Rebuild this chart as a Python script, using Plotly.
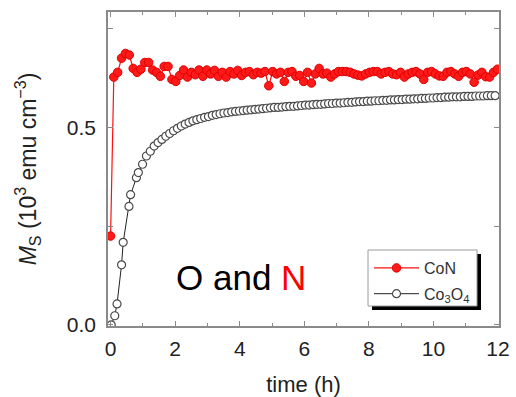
import plotly.graph_objects as go

# CoN data
con_t = [0.00, 0.10, 0.22, 0.34, 0.46, 0.58, 0.70, 0.82, 0.94, 1.06, 1.18, 1.30, 1.42, 1.54, 1.66, 1.78,
         1.90, 2.02, 2.14, 2.26, 2.38, 2.50, 2.62, 2.74, 2.86, 2.98, 3.10, 3.22, 3.34, 3.46, 3.58, 3.70,
         3.82, 3.94, 4.06, 4.18, 4.30, 4.42, 4.54, 4.66, 4.78, 4.90, 5.02, 5.14, 5.26, 5.38, 5.50, 5.62,
         5.74, 5.86, 5.98, 6.10, 6.22, 6.34, 6.46, 6.58, 6.70, 6.82, 6.94, 7.06, 7.18, 7.30, 7.42, 7.54,
         7.66, 7.78, 7.90, 8.02, 8.14, 8.26, 8.38, 8.50, 8.62, 8.74, 8.86, 8.98, 9.10, 9.22, 9.34, 9.46,
         9.58, 9.70, 9.82, 9.94, 10.06, 10.18, 10.30, 10.42, 10.54, 10.66, 10.78, 10.90, 11.02, 11.14,
         11.26, 11.38, 11.50, 11.62, 11.74, 11.86, 11.98]
con_ms = [0.225, 0.628, 0.640, 0.676, 0.688, 0.684, 0.650, 0.640, 0.648, 0.665, 0.665, 0.646, 0.640, 0.630,
          0.655, 0.655, 0.622, 0.617, 0.632, 0.646, 0.628, 0.640, 0.634, 0.646, 0.630, 0.646, 0.636, 0.645,
          0.630, 0.640, 0.628, 0.642, 0.636, 0.645, 0.632, 0.640, 0.642, 0.634, 0.640, 0.638, 0.642, 0.606,
          0.642, 0.636, 0.640, 0.617, 0.640, 0.642, 0.630, 0.632, 0.617, 0.640, 0.613, 0.636, 0.650, 0.636,
          0.638, 0.628, 0.636, 0.642, 0.642, 0.642, 0.640, 0.636, 0.633, 0.631, 0.636, 0.640, 0.642, 0.642,
          0.636, 0.640, 0.642, 0.636, 0.634, 0.640, 0.628, 0.636, 0.640, 0.642, 0.636, 0.622, 0.640, 0.642,
          0.636, 0.631, 0.630, 0.640, 0.642, 0.636, 0.630, 0.640, 0.642, 0.636, 0.615, 0.633, 0.640, 0.629,
          0.628, 0.640, 0.648]

# Co3O4 data
co3o4_t = [0.02, 0.13, 0.20, 0.34, 0.39, 0.57, 0.62, 0.80, 0.86, 0.99, 1.11, 1.23, 1.35, 1.47, 1.59, 1.71,
           1.83, 1.95, 2.07, 2.19, 2.31, 2.43, 2.55, 2.67, 2.79, 2.91, 3.03, 3.15, 3.27, 3.39, 3.51, 3.63,
           3.75, 3.87, 3.99, 4.11, 4.23, 4.35, 4.47, 4.59, 4.71, 4.83, 4.95, 5.07, 5.19, 5.31, 5.43, 5.55,
           5.67, 5.79, 5.91, 6.03, 6.15, 6.27, 6.39, 6.51, 6.63, 6.75, 6.87, 6.99, 7.11, 7.23, 7.35, 7.47,
           7.59, 7.71, 7.83, 7.95, 8.07, 8.19, 8.31, 8.43, 8.55, 8.67, 8.79, 8.91, 9.03, 9.15, 9.27, 9.39,
           9.51, 9.63, 9.75, 9.87, 9.99, 10.11, 10.23, 10.35, 10.47, 10.59, 10.71, 10.83, 10.95, 11.07,
           11.19, 11.31, 11.43, 11.55, 11.67, 11.79, 11.91]
co3o4_ms = [0.000, 0.023, 0.053, 0.152, 0.209, 0.300, 0.330, 0.373, 0.386, 0.407, 0.428, 0.440, 0.453, 0.462,
            0.470, 0.478, 0.485, 0.492, 0.498, 0.504, 0.509, 0.513, 0.517, 0.520, 0.523, 0.526, 0.528, 0.531,
            0.533, 0.535, 0.537, 0.538, 0.540, 0.541, 0.542, 0.543, 0.544, 0.545, 0.546, 0.547, 0.548, 0.549,
            0.550, 0.551, 0.551, 0.552, 0.553, 0.554, 0.554, 0.555, 0.556, 0.557, 0.557, 0.558, 0.559, 0.559,
            0.560, 0.561, 0.561, 0.562, 0.562, 0.563, 0.564, 0.564, 0.565, 0.566, 0.566, 0.567, 0.567, 0.568,
            0.568, 0.569, 0.569, 0.570, 0.570, 0.571, 0.571, 0.572, 0.572, 0.573, 0.573, 0.574, 0.574, 0.575,
            0.575, 0.576, 0.576, 0.577, 0.577, 0.578, 0.578, 0.578, 0.579, 0.579, 0.579, 0.580, 0.580, 0.580,
            0.581, 0.581, 0.581]

x_ticks = [0, 2, 4, 6, 8, 10, 12]
y_ticks = [0.0, 0.5]
y_tick_labels = ["0.0", "0.5"]

FONT = "Liberation Sans, Arial, sans-serif"
AX = "#8a8a8a"
L, R, T, B = 108, 499, 12, 326
PW, PH = R - L, B - T


def px(x):
    return (x - L) / PW


def py(y):
    return (B - y) / PH


fig = go.Figure()
fig.add_trace(go.Scatter(
    x=co3o4_t, y=co3o4_ms, mode="lines+markers", name="Co<sub>3</sub>O<sub>4</sub>",
    legendgroup="b", legendrank=2,
    line=dict(color="#222222", width=1),
    marker=dict(symbol="circle", size=8, color="white", line=dict(color="#4a4a4a", width=1.2)),
))
fig.add_trace(go.Scatter(
    x=con_t, y=con_ms, mode="lines+markers", name="CoN",
    legendgroup="a", legendrank=1,
    line=dict(color="#ff1010", width=1.2),
    marker=dict(symbol="circle", size=8.5, color="#ff1a1a", line=dict(color="#e00000", width=1)),
))

# legend shadow and box
fig.add_shape(type="rect", xref="paper", yref="paper",
              x0=px(372), x1=px(481), y0=py(310), y1=py(254),
              fillcolor="black", line=dict(width=0), layer="above")
fig.add_shape(type="rect", xref="paper", yref="paper",
              x0=px(368), x1=px(477), y0=py(306), y1=py(250),
              fillcolor="white", line=dict(color="#9a9a9a", width=1), layer="above")

fig.add_annotation(x=px(241), y=py(277), xref="paper", yref="paper", showarrow=False,
                   xanchor="center", yanchor="middle",
                   text="O and <span style='color:#ff0000'>N</span>",
                   font=dict(family=FONT, size=35, color="black"))

fig.update_layout(
    width=516, height=397,
    margin=dict(l=L, r=516 - R, t=T, b=397 - B),
    paper_bgcolor="white", plot_bgcolor="white",
    font=dict(family=FONT, color="#222222"),
    showlegend=True,
    legend=dict(x=px(369), y=py(251), xanchor="left", yanchor="top",
                bgcolor="rgba(0,0,0,0)", borderwidth=0,
                font=dict(family=FONT, size=16, color="#333333"),
                traceorder="grouped", tracegroupgap=2, itemwidth=45),
    xaxis=dict(range=[-0.08, 12.03], tickvals=x_ticks, ticks="inside", ticklen=5, tickcolor=AX,
               showline=True, linecolor=AX, linewidth=1.5, mirror="ticks", showgrid=False, zeroline=False,
               automargin=False, ticklabelstandoff=3,
               tickfont=dict(size=21, color="#222222"),
               minor=dict(tickvals=[1, 3, 5, 7, 9, 11], ticks="inside", ticklen=3, tickcolor=AX),
               title=dict(text="time (h)", font=dict(size=22, color="#222222"), standoff=20)),
    yaxis=dict(range=[-0.003, 0.793], tickvals=y_ticks, ticktext=y_tick_labels, ticks="inside", ticklen=5,
               tickcolor=AX, showline=True, linecolor=AX, linewidth=1.5, mirror="ticks", showgrid=False,
               zeroline=False, automargin=False, ticklabelstandoff=6, tickfont=dict(size=21, color="#222222"),
               minor=dict(tickvals=[0.25, 0.75], ticks="inside", ticklen=5, tickcolor=AX),
               title=dict(text="<i>M</i><sub>S</sub> (10<sup>3</sup> emu cm<sup>\u22123</sup>)",
                          font=dict(size=23, color="#222222"), standoff=24)),
)

fig.write_html("out.html", post_script="document.body.style.margin='0';",
               config={"displayModeBar": False})
